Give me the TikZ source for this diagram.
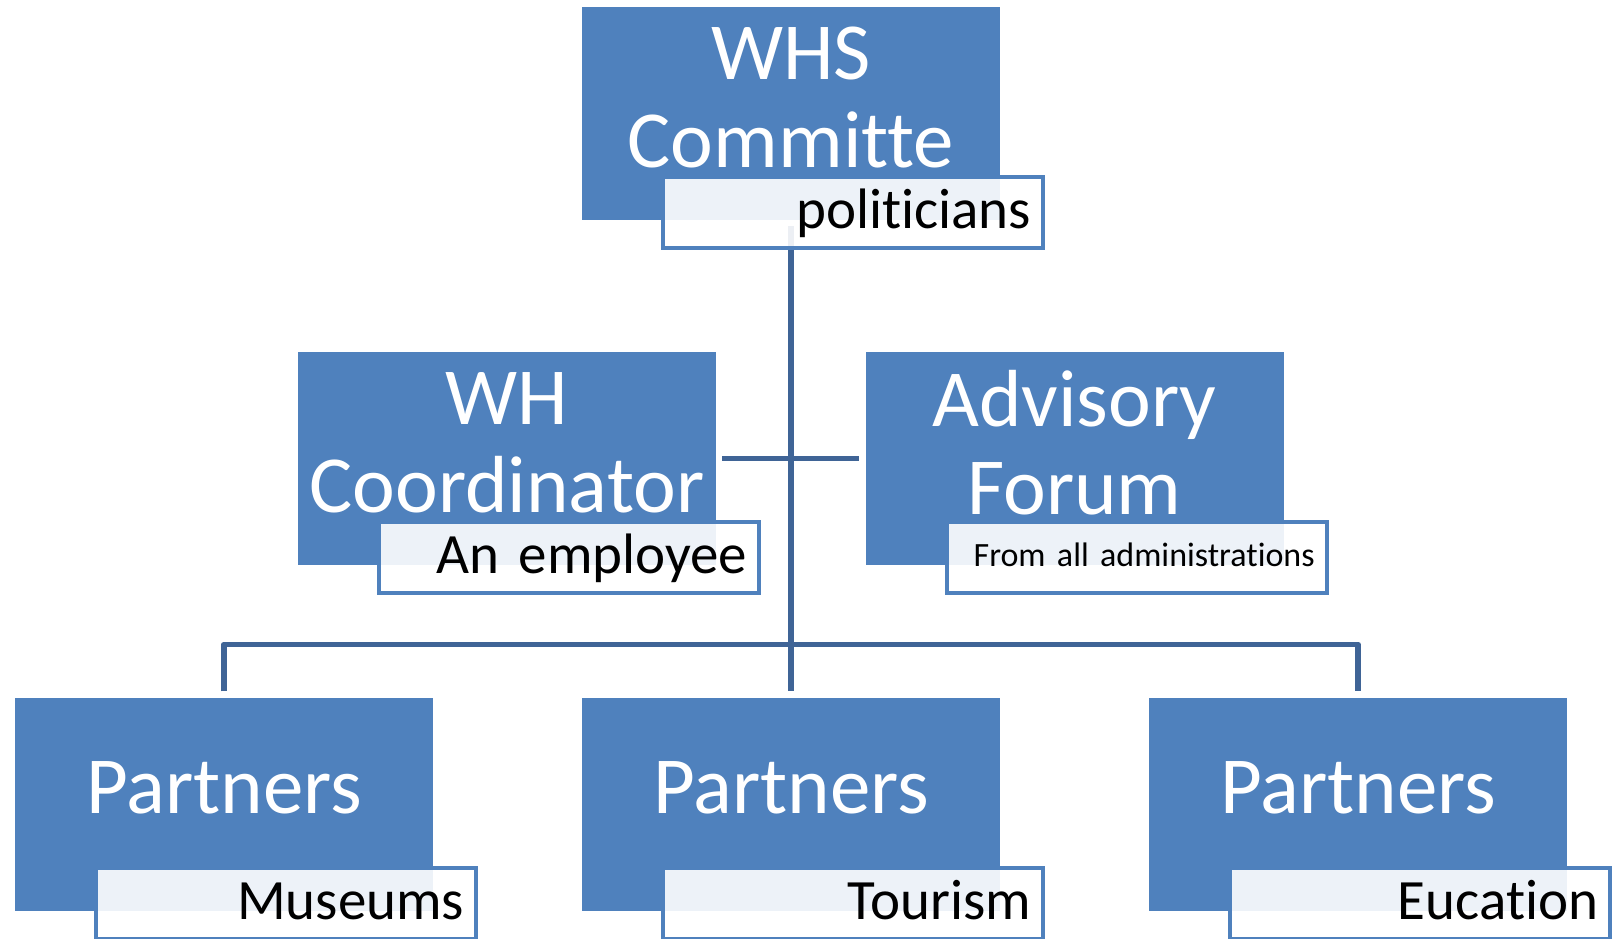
\documentclass[tikz,border=0pt]{standalone}
\usepackage{fontspec}
\setmainfont{Carlito}[Ligatures=NoCommon]
\definecolor{boxblue}{RGB}{79,129,189}
\definecolor{linkblue}{RGB}{63,100,150}
\tikzset{
	unit/.style={fill=boxblue, minimum width=418pt, minimum height=213pt, inner sep=0pt},
	title/.style={text=white, align=center, inner sep=0pt, font=\fontsize{81}{88}\selectfont},
	tag/.style={draw=boxblue, line width=4pt, fill=white, fill opacity=0.9, text opacity=1,
		inner xsep=12pt, inner ysep=0pt, text width=356pt, minimum height=71pt, align=right,
		anchor=north east, font=\fontsize{57}{60}\selectfont, text height=44pt, text depth=12pt},
	link/.style={draw=linkblue, line width=5.5pt, line join=round, shorten <=6pt, shorten >=6pt}
}
\begin{document}
\begin{tikzpicture}[x=1pt, y=-1pt]
	\useasboundingbox (0,0) rectangle (1616,938);
	
	% boxes
	\node[unit] (whs) at (791,113.5) {};
	\node[title] at ([yshift=16pt]whs.center) {WHS\\Committe};
	\node[unit] (coord) at (507,458.5) {};
	\node[title] at ([yshift=16pt]coord.center) {WH\\Coordinator};
	\node[unit] (forum) at (1074.5,458.5) {};
	\node[title] at ([yshift=16pt]forum.center) {Advisory\\Forum};
	\foreach \name/\x in {museums/224, tourism/791, education/1358}{
		\node[unit] (\name) at (\x,804) {};
		\node[title] at ([yshift=16pt]\name.center) {Partners};
	}
	
	% connectors
	\coordinate (bus) at ([yshift=53pt]tourism.north);
	\draw[link] (whs.south) -- (tourism.north);
	\draw[link] (coord.east) -- (forum.west);
	\draw[link] (museums.north) |- (bus) -| (education.north);
	
	% tags
	\node[tag] (whsTag) at ([xshift=45pt, yshift=45pt]whs.south east) {politicians};
	\node[tag] (coordTag) at ([xshift=45pt, yshift=45pt]coord.south east) {An employee};
	\node[tag, font=\fontsize{34}{40}\selectfont, text height=26pt, text depth=8pt] (forumTag)
		at ([xshift=45pt, yshift=45pt]forum.south east) {From all administrations};
	\foreach \name/\kind in {museums/Museums, tourism/Tourism, education/Eucation}{
		\node[tag] (\name Tag) at ([xshift=45pt, yshift=45pt]\name.south east) {\kind};
	}
\end{tikzpicture}
\end{document}
